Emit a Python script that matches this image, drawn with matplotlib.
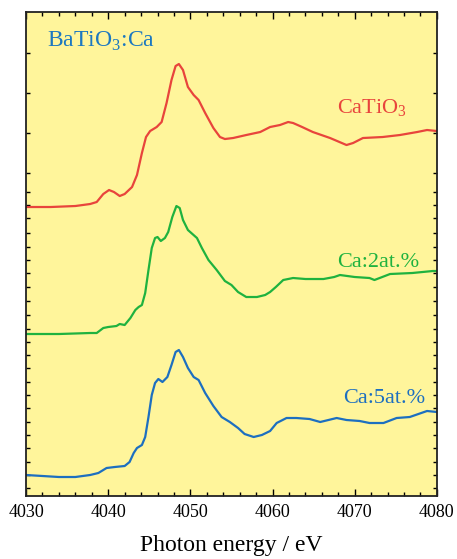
import matplotlib
matplotlib.use("Agg")
import matplotlib.pyplot as plt
from matplotlib.ticker import MultipleLocator, NullFormatter

plt.rcParams['font.family'] = ['Liberation Serif', 'DejaVu Serif']
plt.rcParams['mathtext.fontset'] = 'custom'
plt.rcParams['mathtext.rm'] = 'Liberation Serif'

# spectra (intensity in arbitrary, offset units)
e_catio3 = [4030, 4033, 4036, 4037.8, 4038.6, 4039.4, 4040.1, 4040.7, 4041.4, 4042.0,
            4042.9, 4043.5, 4044.1, 4044.6, 4045.1, 4045.9, 4046.5, 4047.1, 4047.7, 4048.2,
            4048.6, 4049.1, 4049.7, 4050.4, 4051.0, 4051.8, 4052.8, 4053.6, 4054.2, 4055.2,
            4056.8, 4058.5, 4059.7, 4060.9, 4061.9, 4062.5, 4063.6, 4064.9, 4067.0, 4069.0,
            4069.8, 4071.0, 4073.4, 4075.5, 4077.6, 4078.8, 4080]
i_catio3 = [289, 289, 290, 292, 294, 302, 306, 304, 300, 302,
            309, 321, 343, 359, 365, 369, 374, 393, 416, 430,
            432, 426, 409, 401, 396, 383, 368, 359, 357, 358,
            361, 364, 369, 371, 374, 373, 369, 364, 358, 351,
            353, 358, 359, 361, 364, 366, 365]

e_ca2 = [4030, 4034, 4037.8, 4038.6, 4039.4, 4040.0, 4041.0, 4041.4, 4042.0, 4042.7,
         4043.3, 4043.7, 4044.1, 4044.5, 4044.9, 4045.3, 4045.7, 4046.0, 4046.4, 4046.9,
         4047.3, 4047.8, 4048.3, 4048.7, 4049.1, 4049.7, 4050.8, 4051.4, 4052.2, 4053.2,
         4054.2, 4055.0, 4055.8, 4056.8, 4058.1, 4059.1, 4059.7, 4060.4, 4061.3, 4062.5,
         4064.0, 4066.2, 4067.5, 4068.2, 4070.0, 4071.8, 4072.4, 4074.3, 4077.0, 4079.5,
         4080]
i_ca2 = [162, 162, 163, 163, 168, 169, 170, 172, 171, 178,
         186, 189, 191, 203, 226, 248, 258, 259, 255, 258,
         264, 279, 290, 288, 276, 266, 258, 248, 236, 226,
         215, 211, 204, 199, 199, 201, 204, 209, 216, 218,
         217, 217, 219, 221, 219, 218, 216, 222, 223, 225,
         225]

e_ca5 = [4030, 4032, 4034, 4036, 4037.8, 4038.8, 4039.8, 4040.8, 4042.0, 4042.6,
         4043.1, 4043.5, 4044.1, 4044.5, 4044.9, 4045.3, 4045.7, 4046.1, 4046.6, 4047.2,
         4047.7, 4048.2, 4048.6, 4049.1, 4049.7, 4050.4, 4051.0, 4051.8, 4052.8, 4053.8,
         4054.8, 4055.8, 4056.6, 4057.7, 4058.7, 4059.7, 4060.5, 4061.7, 4062.9, 4064.5,
         4065.8, 4067.8, 4069.0, 4070.6, 4071.8, 4073.5, 4075.1, 4076.7, 4078.8, 4080]
i_ca5 = [21, 20, 19, 19, 21, 23, 28, 29, 30, 34,
         43, 48, 51, 59, 79, 101, 113, 117, 114, 119,
         131, 144, 146, 139, 128, 119, 116, 103, 90, 79,
         74, 68, 62, 59, 61, 65, 73, 78, 78, 77,
         74, 78, 76, 75, 73, 73, 78, 79, 85, 84]

series = [
    ("CaTiO$_3$", e_catio3, i_catio3, "#e8443c", (4067.9, 383)),
    ("Ca:2at.%", e_ca2, i_ca2, "#1fb23f", (4067.8, 229)),
    ("Ca:5at.%", e_ca5, i_ca5, "#1d6fc0", (4068.6, 93)),
]

yticks = [443, 403, 363, 323, 304, 291, 278, 263, 249, 236, 223, 209, 195, 181,
          167, 154, 141, 128, 114, 101, 88, 74, 61, 48, 34, 21, 8]

fig = plt.figure(figsize=(4.57, 5.59), dpi=100)
ax = fig.add_axes([0.057, 0.1127, 0.899, 0.8658])
ax.set_facecolor("#fff59b")

for label, e, i, color, pos in series:
    ax.plot(e, i, color=color, lw=1.6)
    ax.text(pos[0], pos[1], label, color=color, fontsize=16, ha="left", va="baseline")

ax.text(4032.5, 449, "BaTiO$_3$:Ca", color="#1c78c0", fontsize=17, ha="left", va="baseline")

ax.set_xlim(4030, 4080)
ax.set_ylim(0, 484)
ax.xaxis.set_major_locator(MultipleLocator(10))
ax.xaxis.set_minor_locator(MultipleLocator(2))
ax.set_yticks(yticks)
ax.yaxis.set_major_formatter(NullFormatter())
ax.tick_params(axis="x", which="major", direction="in", length=5, width=1, top=True, labelsize=13, pad=6)
ax.tick_params(axis="x", which="minor", direction="in", length=3, width=1, top=True)
ax.tick_params(axis="y", direction="in", length=3, width=1, right=True)
for s in ax.spines.values():
    s.set_linewidth(1.3)
    s.set_color("#222222")

ax.set_xlabel("Photon energy / eV", fontsize=17, labelpad=10)

fig.savefig("out.png", dpi=100)
